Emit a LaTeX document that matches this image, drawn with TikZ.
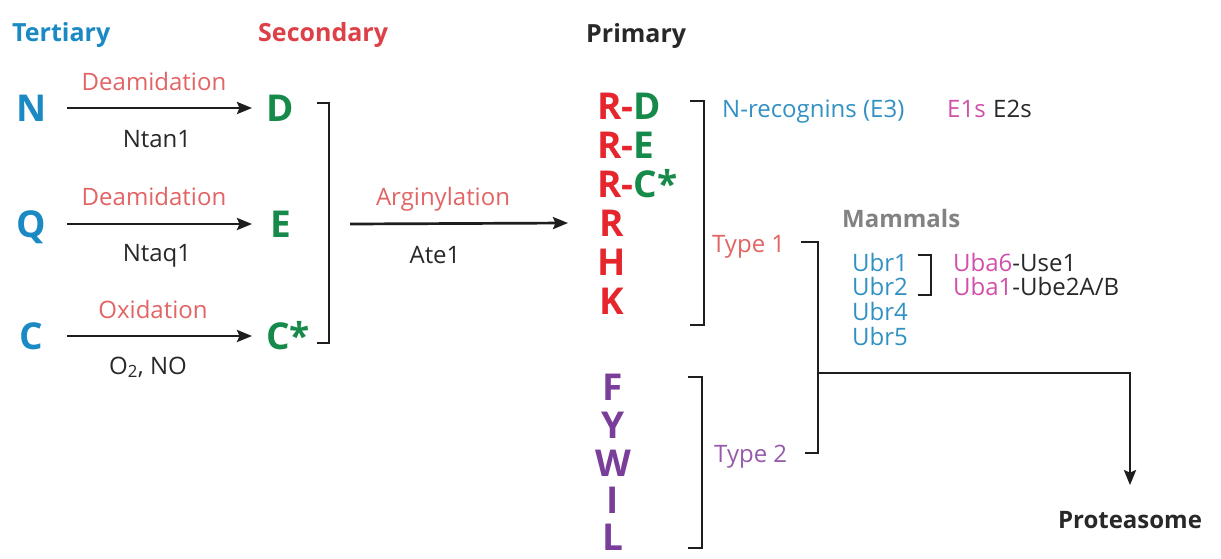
\documentclass[tikz,border=0pt]{standalone}
\usepackage{fontspec}
\setmainfont{Open Sans}
\usetikzlibrary{arrows.meta}
\definecolor{tblue}{RGB}{27,138,196}
\definecolor{sred}{RGB}{222,64,72}
\definecolor{sgreen}{RGB}{22,138,74}
\definecolor{rred}{RGB}{230,38,45}
\definecolor{fpurple}{RGB}{122,62,154}
\definecolor{lred}{RGB}{226,100,100}
\definecolor{tpurple}{RGB}{150,90,170}
\definecolor{lblue}{RGB}{50,145,195}
\definecolor{mag}{RGB}{210,80,170}
\definecolor{dgray}{RGB}{40,40,40}
\definecolor{mgray}{RGB}{130,130,130}
\definecolor{linec}{RGB}{30,30,30}
\begin{document}
\begin{tikzpicture}[x=1pt,y=-1pt,
  big/.style={font=\fontsize{37}{37}\selectfont\bfseries, inner sep=0pt, text height=26pt, text depth=0pt},
  head/.style={font=\fontsize{25}{25}\selectfont\bfseries, inner sep=0pt, anchor=base west},
  lbl/.style={font=\fontsize{24}{24}\selectfont, inner sep=0pt, anchor=base},
  lblw/.style={font=\fontsize{24}{24}\selectfont, inner sep=0pt, anchor=base west},
  arr/.style={draw=linec, line width=2.7pt, -{Stealth[length=15pt,width=12pt,inset=2.5pt]}},
  brk/.style={draw=linec, line width=2.7pt}]
\fill[white] (0,0) rectangle (1221,558);
\useasboundingbox (0,0) rectangle (1221,558);

% headers
\node[head, text=tblue] (tert) at (12,41) {Tertiary};
\node[head, text=sred] (sec) at (258,41) {Secondary};
\node[head, text=dgray] (prim) at (586,42) {Primary};

% tertiary letters
\node[big, text=tblue] (N) at (32,108) {N};
\node[big, text=tblue] (Q) at (31,224) {Q};
\node[big, text=tblue] (C) at (31,336) {C};

% secondary letters
\node[big, text=sgreen, anchor=west] (D) at (266,108) {D};
\node[big, text=sgreen, anchor=west] (E) at (270,224) {E};
\node[big, text=sgreen, anchor=west] (Cs) at (266,336) {C*};

\coordinate (xa) at (67,0);
\coordinate (xb) at (252,0);
\draw[arr] (N.east -| xa) -- (D.west -| xb);
\draw[arr] (Q.east -| xa) -- (E.west -| xb);
\draw[arr] (C.east -| xa) -- (Cs.west -| xb);

\node[lbl, text=lred] (deam1) at (154,90) {Deamidation};
\node[lbl, text=dgray] (ntan) at (157,147) {Ntan1};
\node[lbl, text=lred] (deam2) at (154,205) {Deamidation};
\node[lbl, text=dgray] (ntaq) at (157,261) {Ntaq1};
\node[lbl, text=lred] (oxi) at (153,318) {Oxidation};
\node[lbl, text=dgray] (ono) at (148,374) {O\textsubscript{2}, NO};

% secondary bracket
\draw[brk] (317,103) -- (329,103) -- (329,343) -- (317,343);

% primary column
\node[big, anchor=west] (RD) at (597,106) {\textcolor{rred}{R-}\textcolor{sgreen}{D}};
\node[big, anchor=west] (RE) at (597,145) {\textcolor{rred}{R-}\textcolor{sgreen}{E}};
\node[big, anchor=west] (RC) at (597,184) {\textcolor{rred}{R-}\textcolor{sgreen}{C*}};
\node[big, text=rred] (R4) at (612,223) {R};
\node[big, text=rred] (H) at (612,262) {H};
\node[big, text=rred] (K) at (612,301) {K};
\node[big, text=fpurple] (F) at (613,387) {F};
\node[big, text=fpurple] (Y) at (613,425) {Y};
\node[big, text=fpurple] (W) at (613,463) {W};
\node[big, text=fpurple] (I) at (613,500) {I};
\node[big, text=fpurple] (L) at (613,537) {L};

% arginylation
\coordinate (xc) at (350,0);
\coordinate (xd) at (568,0);
\draw[arr] (E.east -| xc) -- (R4.west -| xd);
\node[lbl, text=lred] (arg) at (443,205) {Arginylation};
\node[lbl, text=dgray] (ate) at (435,263) {Ate1};

% primary brackets
\draw[brk] (690,101) -- (704,101) -- (704,325) -- (690,325);
\draw[brk] (688,377) -- (702,377) -- (702,548) -- (688,548);

\node[lblw, text=lblue] (nrec) at (722,117) {N-recognins (E3)};
\node[lblw, text=mag] (e1s) at (947,117) {E1s};
\node[lblw, text=dgray] (e2s) at (993,117) {E2s};

\node[lblw, text=lred] (t1) at (712,252) {Type 1};
\node[lblw, text=tpurple] (t2) at (714,462) {Type 2};

\draw[brk] (801,242) -- (818,242) -- (818,453) -- (805,453);

\node[head, text=mgray, font=\fontsize{24}{24}\selectfont\bfseries] (mam) at (842,227) {Mammals};
\node[lblw, text=lblue] (u1) at (852,271) {Ubr1};
\node[lblw, text=lblue] (u2) at (852,295) {Ubr2};
\node[lblw, text=lblue] (u4) at (852,320) {Ubr4};
\node[lblw, text=lblue] (u5) at (852,345) {Ubr5};
\draw[brk] (918,255) -- (931,255) -- (931,295) -- (918,295);
\node[lblw] (uba6) at (953,271) {\textcolor{mag}{Uba6}\textcolor{dgray}{-Use1}};
\node[lblw] (uba1) at (953,295) {\textcolor{mag}{Uba1}\textcolor{dgray}{-Ube2A/B}};

\node[font=\fontsize{24}{24}\selectfont\bfseries, text=dgray, inner sep=0pt] (prot) at (1130,520) {Proteasome};
\coordinate (j) at (818,373);
\draw[arr, shorten >=26pt] (j) -| (prot.north);
\end{tikzpicture}
\end{document}
